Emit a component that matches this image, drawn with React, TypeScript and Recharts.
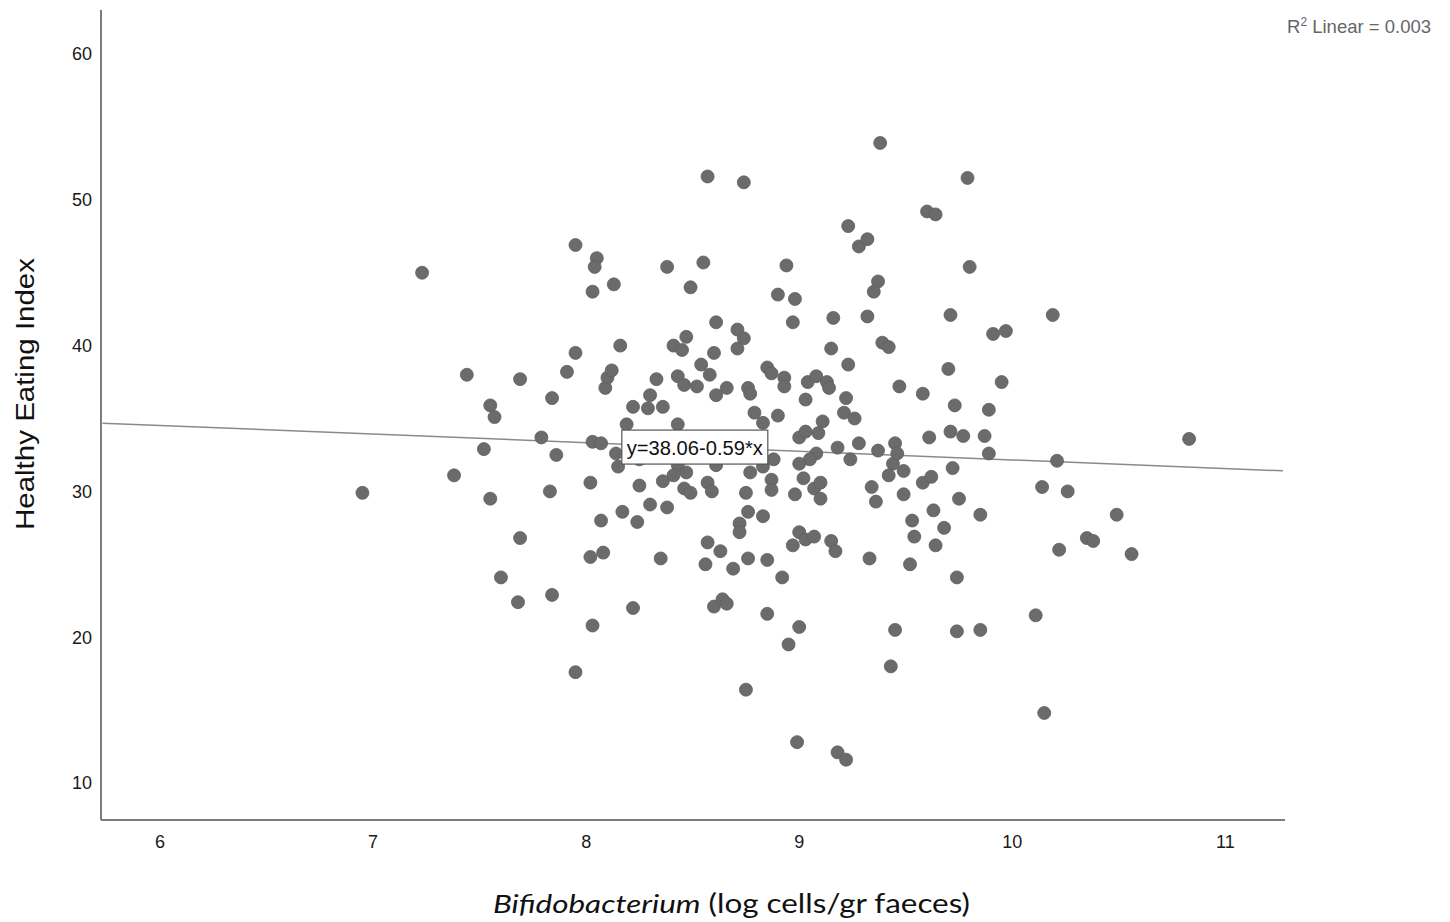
import React from "react";
import { ScatterChart, Scatter, XAxis, YAxis, ReferenceLine, ReferenceDot, Label } from "recharts";

// Bifidobacterium (log cells/gr faeces)
const bifidobacterium = [
  6.95, 7.23, 7.38, 7.44, 7.52, 7.55, 7.57, 7.55, 7.6, 7.68, 7.69, 7.69, 7.79, 7.84, 7.83, 7.84, 7.86, 7.91, 7.95, 7.95,
  7.95, 8.02, 8.03, 8.07, 8.02, 8.08, 8.03, 8.03, 8.05, 8.04, 8.07, 8.09, 8.1, 8.12, 8.13, 8.14, 8.15, 8.16, 8.17, 8.19,
  8.22, 8.22, 8.24, 8.25, 8.3, 8.29, 8.36, 8.33, 8.38, 8.41, 8.45, 8.47, 8.43, 8.46, 8.52, 8.49, 8.55, 8.57, 8.74, 8.54,
  8.6, 8.61, 8.58, 8.61, 8.66, 8.71, 8.74, 8.71, 8.76, 8.77, 8.79, 8.83, 8.85, 8.87, 8.9, 8.9, 8.94, 8.98, 8.97, 8.93,
  8.93, 9.04, 9.08, 9.13, 9.14, 9.03, 9.0, 9.03, 9.11, 9.09, 9.16, 9.15, 9.18, 9.22, 9.21, 9.26, 9.23, 9.23, 9.28, 9.32,
  9.38, 9.32, 9.37, 9.35, 9.39, 9.42, 9.28, 9.37, 9.45, 9.47, 9.24, 9.08, 9.05, 9.0, 8.88, 8.83, 8.43, 8.25, 8.43, 8.61,
  8.36, 8.41, 8.47, 8.46, 8.49, 8.57, 8.59, 8.77, 8.87, 8.87, 8.75, 9.02, 9.07, 9.1, 9.1, 8.98, 9.44, 9.42, 9.34, 9.36,
  8.3, 8.38, 8.76, 8.83, 8.72, 8.72, 8.57, 8.63, 8.56, 8.69, 8.76, 8.85, 8.92, 8.35, 8.97, 9.0, 9.03, 9.07, 9.15, 9.17,
  9.33, 8.6, 8.64, 8.66, 8.85, 9.0, 8.95, 9.45, 9.43, 8.75, 8.99, 9.18, 9.22, 9.79, 9.6, 9.64, 9.8, 9.71, 10.19, 9.91,
  9.97, 9.7, 9.95, 9.58, 9.73, 9.89, 9.61, 9.71, 9.77, 9.87, 10.83, 9.89, 10.21, 9.46, 9.72, 9.49, 9.58, 9.62, 9.49, 9.75,
  9.63, 9.85, 9.53, 9.68, 9.54, 9.64, 9.52, 9.74, 10.14, 10.26, 10.49, 10.22, 10.35, 10.38, 10.56, 10.11, 9.74, 9.85, 10.15,
];

// Healthy Eating Index, same order
const healthyEatingIndex = [
  29.9, 45.0, 31.1, 38.0, 32.9, 35.9, 35.1, 29.5, 24.1, 22.4, 37.7, 26.8, 33.7, 36.4, 30.0, 22.9, 32.5, 38.2, 39.5, 46.9,
  17.6, 30.6, 33.4, 33.3, 25.5, 25.8, 43.7, 20.8, 46.0, 45.4, 28.0, 37.1, 37.8, 38.3, 44.2, 32.6, 31.7, 40.0, 28.6, 34.6,
  35.8, 22.0, 27.9, 30.4, 36.6, 35.7, 35.8, 37.7, 45.4, 40.0, 39.7, 40.6, 37.9, 37.3, 37.2, 44.0, 45.7, 51.6, 51.2, 38.7,
  39.5, 41.6, 38.0, 36.6, 37.1, 41.1, 40.5, 39.8, 37.1, 36.7, 35.4, 34.7, 38.5, 38.1, 43.5, 35.2, 45.5, 43.2, 41.6, 37.8,
  37.2, 37.5, 37.9, 37.5, 37.1, 36.3, 33.7, 34.1, 34.8, 34.0, 41.9, 39.8, 33.0, 36.4, 35.4, 35.0, 38.7, 48.2, 46.8, 47.3,
  53.9, 42.0, 44.4, 43.7, 40.2, 39.9, 33.3, 32.8, 33.3, 37.2, 32.2, 32.6, 32.2, 31.9, 32.2, 31.7, 34.6, 32.2, 31.8, 31.8,
  30.7, 31.1, 31.3, 30.2, 29.9, 30.6, 30.0, 31.3, 30.8, 30.1, 29.9, 30.9, 30.2, 30.6, 29.5, 29.8, 31.9, 31.1, 30.3, 29.3,
  29.1, 28.9, 28.6, 28.3, 27.8, 27.2, 26.5, 25.9, 25.0, 24.7, 25.4, 25.3, 24.1, 25.4, 26.3, 27.2, 26.7, 26.9, 26.6, 25.9,
  25.4, 22.1, 22.6, 22.3, 21.6, 20.7, 19.5, 20.5, 18.0, 16.4, 12.8, 12.1, 11.6, 51.5, 49.2, 49.0, 45.4, 42.1, 42.1, 40.8,
  41.0, 38.4, 37.5, 36.7, 35.9, 35.6, 33.7, 34.1, 33.8, 33.8, 33.6, 32.6, 32.1, 32.6, 31.6, 31.4, 30.6, 31.0, 29.8, 29.5,
  28.7, 28.4, 28.0, 27.5, 26.9, 26.3, 25.0, 24.1, 30.3, 30.0, 28.4, 26.0, 26.8, 26.6, 25.7, 21.5, 20.4, 20.5, 14.8,
];

const xTicks = [6, 7, 8, 9, 10, 11];
const yTicks = [10, 20, 30, 40, 50, 60];

// fit line y = 38.06 - 0.59x, ends at the plot edges
const fitLine = [
  { x: 5.73, y: 34.68 },
  { x: 11.27, y: 31.41 },
];
const fitLabel = { x: 8.51, y: 33.04, text: "y=38.06-0.59*x" };
const rSquared = "0.003";

const points = bifidobacterium.map((x, i) => ({ x, y: healthyEatingIndex[i] }));

const Dot = (props: any) => {
  const { cx, cy } = props;
  if (cx == null || cy == null) return null;
  return <circle cx={cx} cy={cy} r={6.5} fill="#6b6b6b" stroke="#606060" strokeWidth={0.8} />;
};

const FitBox = (props: any) => {
  const { cx, cy } = props;
  return (
    <g>
      <rect x={cx - 73} y={cy - 17} width={146} height={34} fill="#ffffff" stroke="#555555" strokeWidth={1.2} />
      <text
        x={cx}
        y={cy + 1}
        textAnchor="middle"
        dominantBaseline="central"
        fontSize={20}
        fontFamily="'Liberation Sans', Arial, sans-serif"
        fill="#111"
        textLength={136}
        lengthAdjust="spacingAndGlyphs"
      >
        {fitLabel.text}
      </text>
    </g>
  );
};

const XTitle = (props: any) => {
  const vb = props.viewBox;
  return (
    <text
      x={485}
      y={vb.y + 93}
      fontSize={26}
      fontFamily="Lato, 'Open Sans', sans-serif"
      fill="#111"
      textLength={477}
      lengthAdjust="spacingAndGlyphs"
    >
      <tspan fontStyle="italic">Bifidobacterium</tspan>
      <tspan> (log cells/gr faeces)</tspan>
    </text>
  );
};

const YTitle = () => (
  <text
    x={17}
    y={386}
    transform="rotate(-90 17 386)"
    textAnchor="middle"
    dominantBaseline="central"
    fontSize={26}
    fontFamily="'Liberation Sans', Arial, sans-serif"
    fill="#111"
    textLength={272}
    lengthAdjust="spacingAndGlyphs"
  >
    Healthy Eating Index
  </text>
);

const App = () => {
  const tickStyle = { fontSize: 18, fill: "#1a1a1a", fontFamily: "'Liberation Sans', Arial, sans-serif" };
  return (
    <div style={{ position: "relative", width: 1434, height: 914, background: "#fff" }}>
      <ScatterChart width={1434} height={914} margin={{ top: 2, right: 157, left: 0, bottom: 0 }}>
        <XAxis
          type="number"
          dataKey="x"
          domain={[5.723, 11.28]}
          ticks={xTicks}
          allowDataOverflow
          height={102}
          tickLine={false}
          tickMargin={9}
          tick={tickStyle}
          axisLine={{ stroke: "#7d7d7d", strokeWidth: 2 }}
        >
          <Label content={<XTitle />} />
        </XAxis>
        <YAxis
          type="number"
          dataKey="y"
          domain={[7.46, 63.02]}
          ticks={yTicks}
          allowDataOverflow
          width={93}
          tickLine={false}
          tickMargin={3}
          tick={tickStyle}
          axisLine={{ stroke: "#7d7d7d", strokeWidth: 2 }}
        >
          <Label content={<YTitle />} />
        </YAxis>
        <Scatter data={points} shape={<Dot />} isAnimationActive={false} />
        <ReferenceLine segment={fitLine} stroke="#8a8a8a" strokeWidth={1.5} ifOverflow="visible" />
        <ReferenceDot x={fitLabel.x} y={fitLabel.y} shape={<FitBox />} />
      </ScatterChart>
      <div
        style={{
          position: "absolute",
          left: 1279,
          top: 10,
          fontFamily: "'Liberation Sans', Arial, sans-serif",
          fontSize: 18.5,
          lineHeight: 1,
          color: "#666",
          whiteSpace: "nowrap",
        }}
      >
        R<sup style={{ fontSize: 12, verticalAlign: "7px", lineHeight: 0 }}>2</sup> Linear = {rSquared}
      </div>
    </div>
  );
};

export default App;
